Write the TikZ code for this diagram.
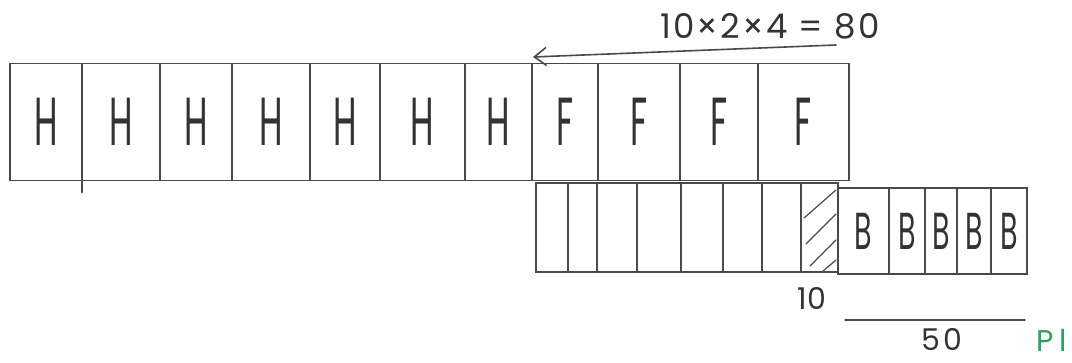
\documentclass[tikz,border=0pt]{standalone}
\usepackage{fontspec}
\setmainfont{Poppins}
\usetikzlibrary{arrows.meta}
\definecolor{ink}{HTML}{4A4A4A}
\definecolor{pen}{HTML}{333333}
\definecolor{greenink}{HTML}{2E9E63}
\begin{document}
\begin{tikzpicture}[x=1pt,y=-1pt,
  cell/.style={draw=ink, line width=1.8pt, inner sep=0pt, outer sep=0pt, text=pen},
  bigletter/.style={font=\fontsize{68}{70}\selectfont},
  midletter/.style={font=\fontsize{52}{54}\selectfont},
  hand/.style={text=pen, inner sep=0pt},
  stroke/.style={draw=ink, line width=1.6pt, line cap=round}]
\useasboundingbox (0,0) rectangle (1072,363);
% top row
\foreach \a/\b/\lt [count=\i] in {10/82/H,82/160/H,160/232/H,232/310/H,310/380/H,380/465/H,465/532/H,532/598/F,598/680/F,680/758/F,758/849/F}
  \node[cell, bigletter, minimum width={(\b-\a)*1pt}, minimum height=117pt] (t\i) at ({(\a+\b)/2},122) {\scalebox{0.5}[1]{\lt}};
% bottom row
\foreach \a/\b [count=\i] in {536/568,568/597,597/637,637/681,681/723,723/762,762/801,801/838}
  \node[cell, minimum width={(\b-\a)*1pt}, minimum height=89pt] (b\i) at ({(\a+\b)/2},227.5) {};
\foreach \a/\b [count=\i] in {838/889,889/925,925/957,957/991,991/1027}
  \node[cell, midletter, minimum width={(\b-\a)*1pt}, minimum height=86pt] (B\i) at ({(\a+\b)/2},231) {\scalebox{0.55}[1]{B}};
% hatching
\begin{scope}
  \clip (b8.north west) rectangle (b8.south east);
  \draw[stroke, line width=1.2pt] (804,218) -- (836,190);
  \draw[stroke, line width=1.2pt] (806,244) -- (836,214);
  \draw[stroke, line width=1.2pt] (810,266) -- (836,240);
  \draw[stroke, line width=1.2pt] (822,272) -- (836,260);
\end{scope}
% tick below first divider
\draw[stroke] (t1.south east) -- ++(0,12);
% arrow and formula
\coordinate (arrS) at (836,45);
\coordinate (arrE) at (533,57);
\draw[stroke, -{Straight Barb[length=12pt,width=18pt]}] (arrS) -- (arrE);
\node[hand, font=\fontsize{34}{36}\selectfont\addfontfeatures{LetterSpace=6}] (calc) at (770,26) {10×2×4 = 80};
% bottom labels
\node[hand, font=\fontsize{30}{32}\selectfont] (ten) at (812,298) {10};
\coordinate (ulS) at (845,320);
\coordinate (ulE) at (1025,320);
\draw[stroke] (ulS) -- (ulE);
\node[hand, font=\fontsize{30}{32}\selectfont\addfontfeatures{LetterSpace=8}] (fifty) at (942,340) {50};
\node[hand, text=greenink, anchor=west, font=\fontsize{30}{32}\selectfont\addfontfeatures{LetterSpace=20}] (pl) at (1036,340) {Pl};
\end{tikzpicture}
\end{document}
